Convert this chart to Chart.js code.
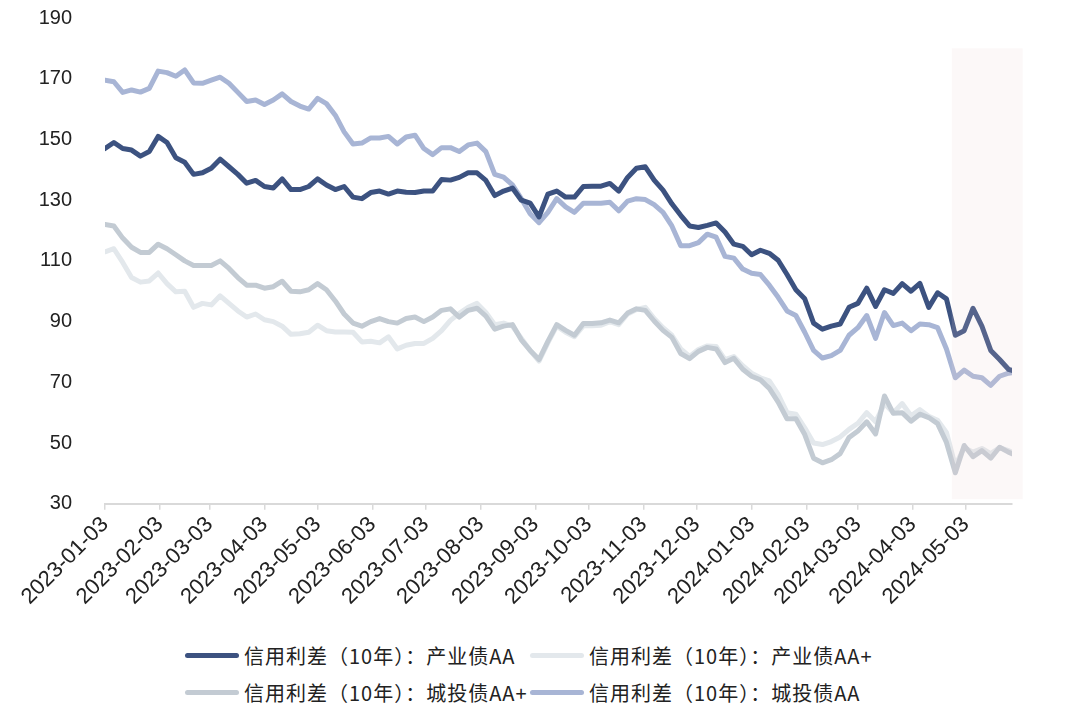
<!DOCTYPE html>
<html>
<head>
<meta charset="utf-8">
<script src="https://cdn.jsdelivr.net/npm/chart.js@4.4.1/dist/chart.umd.min.js"></script>
<style>
    html, body { margin: 0; padding: 0; background: #ffffff; }
    #wrap { position: relative; width: 1080px; height: 716px; }
    #box { position: absolute; left: 0; top: 0; width: 1080px; height: 612px; }
    .legend-item { position: absolute; height: 26px; display: flex; align-items: center; letter-spacing: 1px;
        font-family: "Noto Sans CJK SC", sans-serif; font-size: 20px; color: #222; white-space: nowrap; }
    .legend-line { width: 54px; height: 5px; border-radius: 3px; margin-right: 5px; }
</style>
</head>
<body>
<div id="wrap">
    <div id="box"><canvas id="grafico"></canvas></div>
    <div id="legenda"></div>
</div>
<script>
// datas das observações (amostradas a cada 5 dias)
const datas = [
    '2023-01-03','2023-01-08','2023-01-13','2023-01-18','2023-01-23','2023-01-28',
    '2023-02-02','2023-02-07','2023-02-12','2023-02-17','2023-02-22','2023-02-27',
    '2023-03-04','2023-03-09','2023-03-14','2023-03-19','2023-03-24','2023-03-29',
    '2023-04-03','2023-04-08','2023-04-13','2023-04-18','2023-04-23','2023-04-28',
    '2023-05-03','2023-05-08','2023-05-13','2023-05-18','2023-05-23','2023-05-28',
    '2023-06-02','2023-06-07','2023-06-12','2023-06-17','2023-06-22','2023-06-27',
    '2023-07-02','2023-07-07','2023-07-12','2023-07-17','2023-07-22','2023-07-27',
    '2023-08-01','2023-08-06','2023-08-11','2023-08-16','2023-08-21','2023-08-26','2023-08-31',
    '2023-09-05','2023-09-10','2023-09-15','2023-09-20','2023-09-25','2023-09-30',
    '2023-10-05','2023-10-10','2023-10-15','2023-10-20','2023-10-25','2023-10-30',
    '2023-11-04','2023-11-09','2023-11-14','2023-11-19','2023-11-24','2023-11-29',
    '2023-12-04','2023-12-09','2023-12-14','2023-12-19','2023-12-24','2023-12-29',
    '2024-01-03','2024-01-08','2024-01-13','2024-01-18','2024-01-23','2024-01-28',
    '2024-02-02','2024-02-07','2024-02-12','2024-02-17','2024-02-22','2024-02-27',
    '2024-03-03','2024-03-08','2024-03-13','2024-03-18','2024-03-23','2024-03-28',
    '2024-04-02','2024-04-07','2024-04-12','2024-04-17','2024-04-22','2024-04-27',
    '2024-05-02','2024-05-07','2024-05-12','2024-05-17','2024-05-22','2024-05-27','2024-05-29'
];

const industrialAA = [
    147, 149, 147, 146.5, 144.5, 146, 151, 149, 144, 142.5,
    138.5, 139, 140.5, 143.5, 141, 138.5, 135.6, 136.5, 134.5, 134,
    137, 133.5, 133.5, 134.5, 137, 135, 133.5, 134.5, 131, 130.5,
    132.5, 133, 132, 133, 132.6, 132.5, 133, 133, 136.8, 136.6,
    137.5, 139, 139, 136.5, 131.5, 133, 134, 130, 129, 124.5,
    132, 133, 131, 131, 134.5, 134.6, 134.6, 135.5, 133, 137.5,
    140.5, 141, 136.6, 133.3, 128.8, 125, 121.5, 121, 121.7, 122.5,
    119.5, 115.5, 114.8, 112, 113.5, 112.5, 110.2, 105.5, 100.5, 97.5,
    89.5, 87.5, 88.5, 89.2, 94.7, 96, 101, 95, 100.5, 99.3,
    102.5, 100, 102.6, 94.7, 99.5, 97.5, 85.5, 87, 94.4, 88.5,
    80.5, 77.5, 74.3, 73.9
];

const industrialAAplus = [
    113, 114, 109.5, 104.5, 103, 103.4, 106, 102.5, 99.8, 100,
    94.7, 96, 95.5, 98.5, 96, 93.5, 91.5, 92.5, 90.6, 90,
    88.5, 85.8, 86, 86.5, 88.8, 87, 86.6, 86.6, 86.5, 83.3,
    83.5, 83, 85, 81, 82.2, 82.8, 82.8, 84.5, 87, 90.4,
    92.7, 94.7, 96, 93, 89, 89.5, 88.5, 84.5, 80.5, 77,
    83, 88.5, 86.5, 85, 88.6, 88.6, 88.8, 90, 89, 92.5,
    94, 94.7, 91, 88, 85.5, 81, 78.5, 80.8, 82, 81.8,
    77.5, 78.5, 75.5, 73, 71.5, 70.5, 66, 60, 59.5, 55,
    50, 49.5, 50.5, 52, 54.5, 56.5, 60, 57, 63, 60,
    63, 59, 61, 58.8, 57.5, 53.5, 42.5, 48.5, 47, 48.2,
    46.5, 48.5, 47.5, 47
];

const urbanAAplus = [
    122, 121.5, 117.5, 114.5, 112.8, 112.8, 115.5, 114, 112, 110,
    108.5, 108.5, 108.5, 110, 107.5, 104.5, 102, 102, 101, 101.5,
    103.3, 100, 99.8, 100.5, 102.5, 100.5, 96.8, 92.5, 89.5, 88.5,
    90, 91, 90, 89.5, 91, 91.5, 90, 91.5, 93.7, 94.2,
    91.5, 93.7, 94.4, 91.8, 87.5, 88.5, 89, 84, 80.5, 77.5,
    83.5, 89, 87.1, 85.5, 89.4, 89.4, 89.6, 90.5, 89.6, 92.8,
    94.2, 93.7, 90.2, 87.1, 84.8, 79.5, 77.8, 80.2, 81.5, 81,
    76.5, 77.9, 74.3, 72, 70.8, 68, 63.5, 58, 58, 52.8,
    45, 43.5, 44.5, 46.5, 51.8, 54, 57, 53, 65.5, 59.8,
    60, 57.2, 59.5, 58.4, 56.4, 50.2, 40.2, 49.2, 45.5, 47.5,
    45, 48.6, 47, 46.5
];

const urbanAA = [
    169.5, 169, 165.5, 166.3, 165.6, 166.8, 172.5, 172, 170.8, 172.9,
    168.6, 168.5, 169.5, 170.5, 168.5, 165.5, 162.5, 163, 161.5, 163,
    165, 162.5, 161, 160, 163.5, 161.8, 158, 152.5, 148.5, 148.8,
    150.5, 150.5, 151, 148.5, 150.8, 151.4, 147, 145, 147.3, 147.3,
    146, 148.2, 148.8, 146, 138.5, 137.6, 135, 130.5, 125.5, 122.6,
    126, 130.5, 127.8, 126, 129, 129, 129, 129.3, 126.5, 129.7,
    130.5, 130.2, 128.5, 126, 121.5, 115, 115, 116, 118.8, 117.8,
    111.5, 110.9, 107.3, 105.9, 105.5, 102, 98, 93.5, 92, 86.5,
    80.5, 78, 78.8, 80.5, 85.5, 88, 92, 84.5, 93, 88.7,
    89.5, 87, 89.2, 89, 88, 81, 71.5, 74, 72, 71.5,
    69, 72, 73, 73.2
];

const tickLabels = [
    '2023-01-03','2023-02-03','2023-03-03','2023-04-03','2023-05-03','2023-06-03',
    '2023-07-03','2023-08-03','2023-09-03','2023-10-03','2023-11-03','2023-12-03',
    '2024-01-03','2024-02-03','2024-03-03','2024-04-03','2024-05-03'
];

const seriesLabels = [
    '信用利差（10年）：产业债AA',
    '信用利差（10年）：产业债AA+',
    '信用利差（10年）：城投债AA+',
    '信用利差（10年）：城投债AA'
];
const seriesColors = ['#3c5280', '#e3e8ec', '#c3cbd3', '#a8b5d5'];
const seriesOrder = [0, 2, 1, 3];

// faixa sombreada no final
const faixaInicio = '2024-04-25';
const faixaFim = '2024-06-04';
const faixaTopo = 180;
const faixaBase = 31.5;

function diasDesde(dataStr) {
    return Math.round((Date.parse(dataStr) - Date.parse(datas[0])) / 86400000);
}

const xDias = datas.map(diasDesde);
const tickDias = tickLabels.map(diasDesde);

function montarSerie(valores) {
    return valores.map((v, i) => ({ x: xDias[i], y: v }));
}

const faixaPlugin = {
    id: 'faixa',
    afterDatasetsDraw(chart) {
        const ctx = chart.ctx;
        const xs = chart.scales.x;
        const ys = chart.scales.y;
        const x1 = xs.getPixelForValue(diasDesde(faixaInicio));
        const x2 = xs.getPixelForValue(diasDesde(faixaFim));
        const y1 = ys.getPixelForValue(faixaTopo);
        const y2 = ys.getPixelForValue(faixaBase);
        ctx.save();
        ctx.fillStyle = 'rgba(235, 208, 208, 0.15)';
        ctx.fillRect(x1, y1, x2 - x1, y2 - y1);
        ctx.restore();
    }
};

const valores = [industrialAA, industrialAAplus, urbanAAplus, urbanAA];

const ctx = document.getElementById('grafico').getContext('2d');
new Chart(ctx, {
    type: 'line',
    data: {
        datasets: valores.map((serie, i) => ({
            label: seriesLabels[i],
            data: montarSerie(serie),
            borderColor: seriesColors[i],
            backgroundColor: seriesColors[i],
            borderWidth: 5,
            pointRadius: 0,
            tension: 0,
            borderJoinStyle: 'round',
            borderCapStyle: 'round',
            order: seriesOrder[i],
            fill: false
        }))
    },
    options: {
        responsive: true,
        maintainAspectRatio: false,
        animation: false,
        layout: {
            padding: { top: 18, right: 68, left: 0, bottom: 0 }
        },
        plugins: {
            legend: { display: false },
            tooltip: { enabled: false }
        },
        scales: {
            x: {
                type: 'linear',
                min: 0,
                max: xDias[xDias.length - 1],
                afterBuildTicks: function (axis) {
                    axis.ticks = tickDias.map(v => ({ value: v }));
                },
                ticks: {
                    autoSkip: false,
                    minRotation: 45,
                    maxRotation: 45,
                    padding: 2,
                    color: '#222',
                    font: { family: '"Liberation Sans", Arial, sans-serif', size: 22 },
                    callback: function (value) {
                        const idx = tickDias.indexOf(value);
                        return idx >= 0 ? tickLabels[idx] : '';
                    }
                },
                grid: {
                    display: true,
                    drawOnChartArea: false,
                    drawTicks: true,
                    tickLength: 6,
                    color: '#d9d9d9',
                    lineWidth: 1.5
                },
                border: { display: true, color: '#d9d9d9', width: 2 }
            },
            y: {
                min: 30,
                max: 190,
                afterFit: function (scale) {
                    scale.width = 105;
                },
                ticks: {
                    stepSize: 20,
                    padding: 0,
                    color: '#222',
                    font: { family: '"Liberation Sans", Arial, sans-serif', size: 20 }
                },
                grid: {
                    display: true,
                    drawOnChartArea: false,
                    drawTicks: true,
                    tickLength: 33,
                    color: 'rgba(0,0,0,0)'
                },
                border: { display: false }
            }
        }
    },
    plugins: [faixaPlugin]
});

// legenda em HTML, duas colunas
const posLegenda = [
    { left: 185, top: 642 },
    { left: 530, top: 642 },
    { left: 185, top: 679 },
    { left: 530, top: 679 }
];
const legenda = document.getElementById('legenda');
seriesLabels.forEach((label, i) => {
    const item = document.createElement('div');
    item.className = 'legend-item';
    item.style.left = posLegenda[i].left + 'px';
    item.style.top = posLegenda[i].top + 'px';
    item.innerHTML = `<div class="legend-line" style="background:${seriesColors[i]}"></div>${label}`;
    legenda.appendChild(item);
});
</script>
</body>
</html>
